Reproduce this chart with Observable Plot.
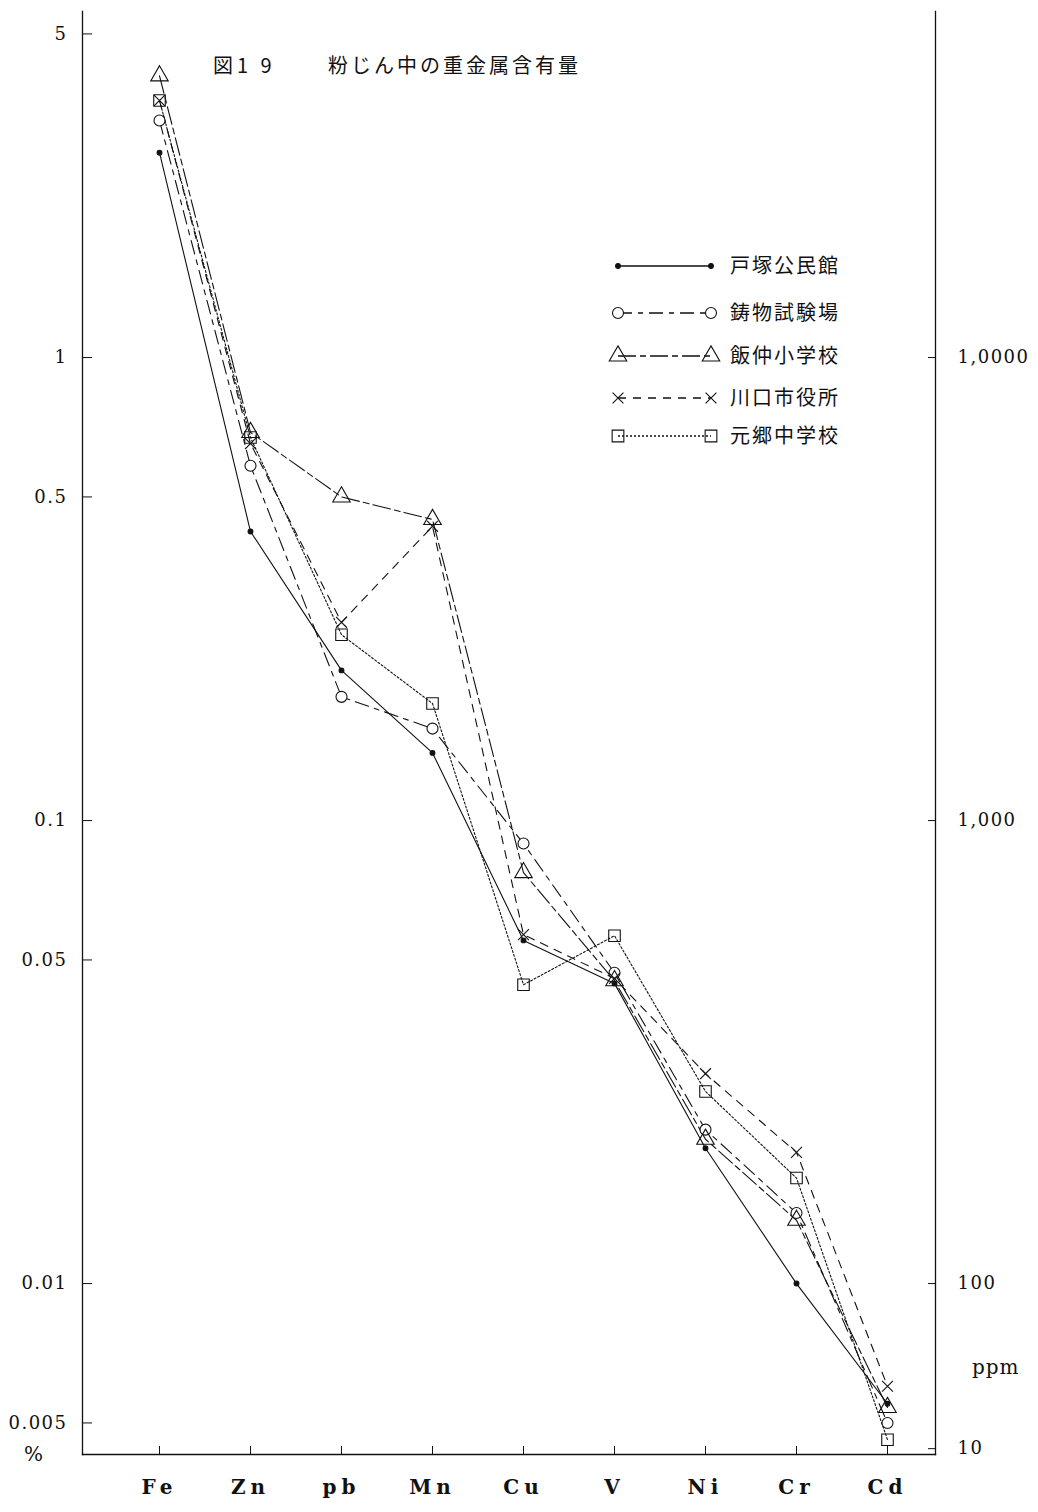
<!DOCTYPE html>
<html>
<head>
<meta charset="utf-8">
<script src="https://cdn.jsdelivr.net/npm/d3@7"></script>
<script src="https://cdn.jsdelivr.net/npm/@observablehq/plot@0.6"></script>
<style>
  html, body { margin: 0; padding: 0; background: #fff; }
  #wrap { position: relative; width: 1038px; height: 1512px; }
  .jp { position: absolute; font-family: "Noto Sans CJK JP", sans-serif; color: #111; white-space: pre; }
  .num { position: absolute; font-family: "DejaVu Serif", serif; color: #111; white-space: pre; }
  #legend { position: absolute; left: 600px; top: 240px; }
</style>
</head>
<body>
<div id="wrap"></div>
<script>
// Heavy metal content of airborne dust by sampling site (percent by weight)
const metals = ["Fe", "Zn", "pb", "Mn", "Cu", "V", "Ni", "Cr", "Cd"];
const sites = ["戸塚公民館", "鋳物試験場", "飯仲小学校", "川口市役所", "元郷中学校"];
const totsuka   = [2.77, 0.421, 0.211, 0.140, 0.0551, 0.0445, 0.0196, 0.0100, 0.0055];
const imono     = [3.25, 0.584, 0.185, 0.158, 0.0892, 0.0469, 0.0215, 0.0142, 0.0050];
const iinaka    = [4.06, 0.689, 0.500, 0.447, 0.0772, 0.0451, 0.0205, 0.0137, 0.0054];
const kawaguchi = [3.59, 0.652, 0.268, 0.432, 0.0567, 0.0456, 0.0284, 0.0192, 0.0060];
const motogo    = [3.59, 0.672, 0.252, 0.179, 0.0442, 0.0564, 0.0260, 0.0169, 0.0046];
const seriesValues = [totsuka, imono, iinaka, kawaguchi, motogo];

// Axis ticks: percent on the left, ppm on the right
const leftTicks = [5, 1, 0.5, 0.1, 0.05, 0.01, 0.005];
const leftTickLabels = ["5", "1", "0.5", "0.1", "0.05", "0.01", "0.005"];
const rightTicks = [1, 0.1, 0.01, 0.0044];
const rightTickLabels = ["1,0000", "1,000", "100", "10"];

// Line and marker style per site
const styles = [
  {dash: null,         symbol: "circle",   fill: "#111", r: 2.4},
  {dash: "14,6,5,6",   symbol: "circle",   fill: "white", r: 5.5},
  {dash: "18,4,6,4",   symbol: "triangle", fill: "none", r: 6.5},
  {dash: "8,7",        symbol: "times",    fill: "none", r: 5},
  {dash: "2,2",        symbol: "square",   fill: "none", r: 6.5}
];

const rows = seriesValues.map((vals, i) =>
  metals.map((m, j) => ({site: sites[i], metal: m, value: vals[j]})));

const lineMarks = rows.map((data, i) => Plot.line(data, {
  x: "metal", y: "value", stroke: "#111", strokeWidth: 1.1,
  strokeDasharray: styles[i].dash
}));
const dotMarks = rows.map((data, i) => Plot.dot(data, {
  x: "metal", y: "value", symbol: () => styles[i].symbol, r: styles[i].r,
  stroke: "#111", strokeWidth: 1.1, fill: styles[i].fill
}));

const chart = Plot.plot({
  width: 1038,
  height: 1512,
  marginTop: 11,
  marginBottom: 58,
  marginLeft: 82,
  marginRight: 103,
  style: {fontFamily: "DejaVu Serif, serif", color: "#111", background: "white"},
  x: {type: "point", domain: metals, padding: 0, insetLeft: 76, insetRight: 47},
  y: {type: "log", domain: [0.004274, 5.59]},
  symbol: {type: "identity"},
  marks: [
    Plot.frame({anchor: "left", stroke: "#111", strokeWidth: 1.3}),
    Plot.frame({anchor: "bottom", stroke: "#111", strokeWidth: 1.3}),
    Plot.frame({anchor: "right", stroke: "#111", strokeWidth: 1.3}),
    // inward tick marks
    Plot.axisY({anchor: "left", ticks: leftTicks, tickSize: 10, dx: 10, tickFormat: () => "", label: null}),
    Plot.axisY({anchor: "right", ticks: rightTicks, tickSize: 8, dx: -8, tickFormat: () => "", label: null}),
    Plot.axisX({anchor: "bottom", tickSize: 8, dy: -8, tickFormat: () => "", label: null}),
    // tick labels
    Plot.text(leftTicks, {y: d => d, text: (d, i) => leftTickLabels[i], frameAnchor: "left",
      dx: -15, textAnchor: "end", fontSize: 18, fill: "#111"}),
    Plot.text(rightTicks, {y: d => d, text: (d, i) => rightTickLabels[i], frameAnchor: "right",
      dx: 22, textAnchor: "start", fontSize: 18, fill: "#111"}),
    Plot.axisX({anchor: "bottom", tickSize: 0, tickPadding: 25, fontSize: 20,
      fontWeight: "bold", label: null}),
    ...lineMarks,
    ...dotMarks
  ]
});

d3.select(chart).selectAll('g[aria-label="x-axis tick label"] text')
  .style("letter-spacing", "5px");
d3.select(chart).selectAll('g[aria-label="text"] text')
  .style("letter-spacing", "1.5px");

const wrap = document.getElementById("wrap");
wrap.appendChild(chart);

// Title and unit labels
function addText(cls, text, left, top, size, extra) {
  const el = document.createElement("div");
  el.className = cls;
  el.textContent = text;
  el.style.left = left + "px";
  el.style.top = top + "px";
  el.style.fontSize = size + "px";
  if (extra) Object.assign(el.style, extra);
  wrap.appendChild(el);
}
addText("jp", "図1 9", 213, 50, 20, {letterSpacing: "4px"});
addText("jp", "粉じん中の重金属含有量", 328, 50, 20, {letterSpacing: "3px"});
addText("num", "%", 24, 1442, 20);
addText("num", "ppm", 972, 1355, 20, {letterSpacing: "1px"});

// Legend
const lg = d3.select(wrap).append("svg").attr("id", "legend")
  .attr("width", 280).attr("height", 230);
const legendRows = [26, 73, 116, 158, 196];
const symbolTypes = {circle: d3.symbolCircle, triangle: d3.symbolTriangle,
                     times: d3.symbolTimes, square: d3.symbolSquare};
sites.forEach((name, i) => {
  const s = styles[i];
  const y = legendRows[i];
  const g = lg.append("g").attr("transform", `translate(0,${y})`);
  g.append("line").attr("x1", 18).attr("x2", 111).attr("y1", 0).attr("y2", 0)
    .attr("stroke", "#111").attr("stroke-width", 1.3)
    .attr("stroke-dasharray", s.dash);
  const size = s.symbol === "square" ? (2 * s.r * 0.9) ** 2 : Math.PI * s.r * s.r;
  const sym = d3.symbol(symbolTypes[s.symbol], size)();
  [18, 111].forEach(x => {
    g.append("path").attr("d", sym).attr("transform", `translate(${x},0)`)
      .attr("stroke", "#111").attr("stroke-width", 1.1).attr("fill", s.fill);
  });
  g.append("text").attr("x", 130).attr("y", 0).attr("dy", "0.36em")
    .attr("font-family", "Noto Sans CJK JP, sans-serif").attr("font-size", 20)
    .attr("letter-spacing", "2px").attr("fill", "#111").text(name);
});
</script>
</body>
</html>
